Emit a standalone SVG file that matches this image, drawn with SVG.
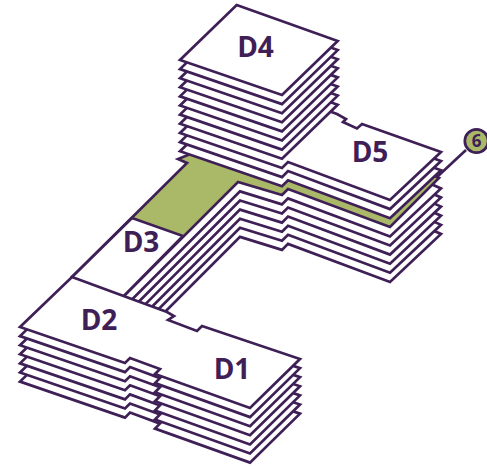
<svg xmlns="http://www.w3.org/2000/svg" width="487" height="469" viewBox="0 0 487 469">
<style>
.s{fill:#fff;stroke:#3f2056;stroke-width:2.7;stroke-linejoin:miter;stroke-miterlimit:6}
.g{fill:#a9b968}
.t{font-family:"Open Sans","Noto Sans",sans-serif;font-weight:700;font-size:28px;fill:#3f2056;text-anchor:middle}
.c{stroke:#3f2056;stroke-width:2.7;fill:none}
</style>
<defs>
<polygon id="pod" class="s" points="250,103 331,103 441,152 390,200 288,162 282,168 240,155 130,265 72,250 187,136"/>
<polygon id="mid" class="s" points="237,78 337,114 346,119 343,122 357,128.500 362,124 441,152 390,200 288,162 282,168 180,133"/>
<polygon id="d4" class="s" points="236.700,5 337.700,41 282,95 180,60"/>
<polygon id="d2s" class="s" points="72,277 202,327 160,369 130,358 125,363 20,327"/>
<polygon id="d1s" class="s" points="202,326 300,359 250,408 155,374"/>
</defs>
<g id="D3">
<use href="#pod" y="81.900"/>
<use href="#pod" y="72.800"/>
<use href="#pod" y="63.700"/>
<use href="#pod" y="54.600"/>
<use href="#pod" y="45.500"/>
<use href="#pod" y="36.400"/>
<polygon class="s g" points="250,130 331,130 439,178 390,227 288,189 282,195 238,182 110,310 72,277 187,163 178,159"/>
<polygon class="s" points="132,218 183,236 110,310 72,277"/>
<text class="t" x="141" y="252">D3</text>
</g>
<g id="D5">
<use href="#mid" y="18.200"/>
<use href="#mid" y="9.100"/>
<use href="#mid"/>
<text class="t" x="370" y="162">D5</text>
</g>
<g id="D4">
<use href="#d4" y="63.700"/>
<use href="#d4" y="54.600"/>
<use href="#d4" y="45.500"/>
<use href="#d4" y="36.400"/>
<use href="#d4" y="27.300"/>
<use href="#d4" y="18.200"/>
<use href="#d4" y="9.100"/>
<use href="#d4"/>
<text class="t" x="255.500" y="57">D4</text>
</g>
<g id="D2">
<use href="#d2s" y="54.600"/>
<use href="#d2s" y="45.500"/>
<use href="#d2s" y="36.400"/>
<use href="#d2s" y="27.300"/>
<use href="#d2s" y="18.200"/>
<use href="#d2s" y="9.100"/>
</g>
<g id="D1">
<use href="#d1s" y="54.600"/>
<use href="#d1s" y="45.500"/>
<use href="#d1s" y="36.400"/>
<use href="#d1s" y="27.300"/>
<use href="#d1s" y="18.200"/>
<use href="#d1s" y="9.100"/>
<polygon class="s" points="72,277 167,312 174,316 168,320 197,331 202,326 300,359 250,408 155,374 160,369 130,358 125,363 20,327"/>
<text class="t" x="232" y="379">D1</text>
</g>
<g id="D2-label"><text class="t" x="99" y="330">D2</text></g>
<g id="connectors"><line class="c" x1="466" y1="150" x2="437" y2="177"/></g>
<g id="badge-6">
<circle cx="476.500" cy="141" r="11.700" fill="#a9b968" stroke="#3f2056" stroke-width="2.700"/>
<text x="476.500" y="147" font-family="'Open Sans','Noto Sans',sans-serif" font-weight="700" font-size="17" fill="#3f2056" text-anchor="middle">6</text>
</g>
</svg>
